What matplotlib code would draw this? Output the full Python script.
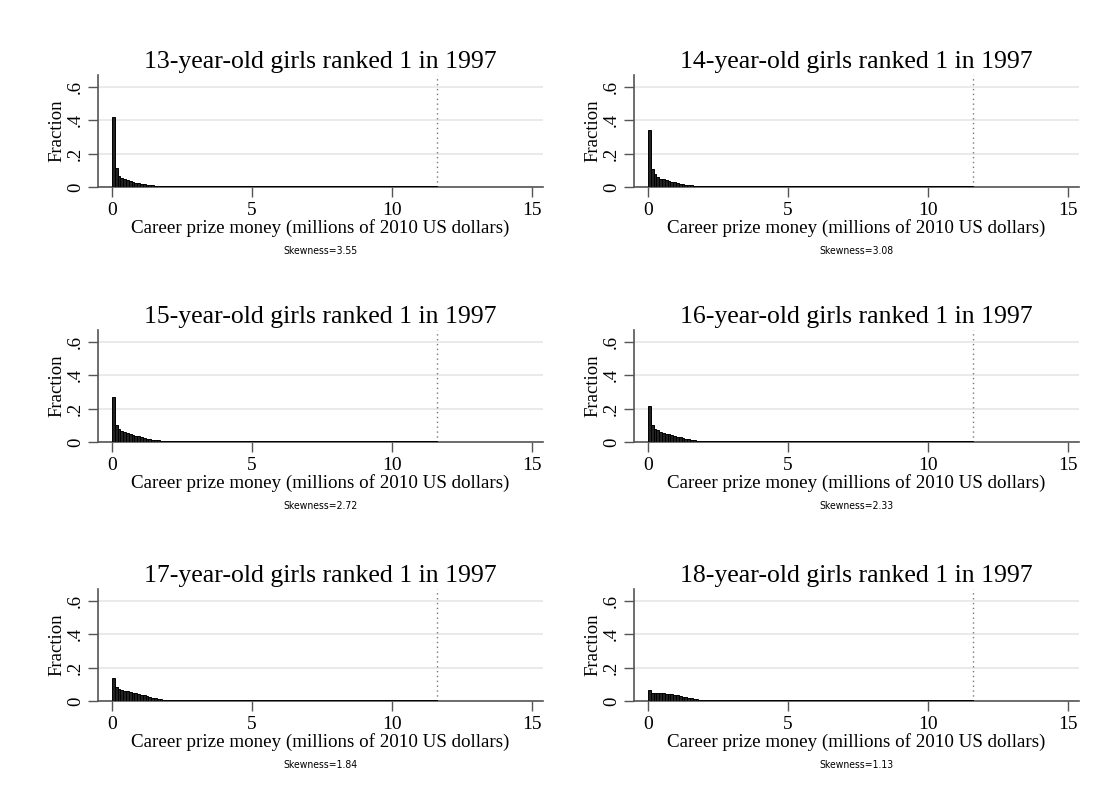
import numpy as np
import matplotlib.pyplot as plt

# histogram bin settings (millions of 2010 US dollars)
bin_w = 0.1
max_prize = 11.6

ages = [13, 14, 15, 16, 17, 18]
skewness = [3.55, 3.08, 2.72, 2.33, 1.84, 1.13]

# first 20 bins (0 - 2.0), fractions
head_13 = [0.42, 0.115, 0.068, 0.052, 0.045, 0.040, 0.035, 0.030, 0.026, 0.022,
           0.019, 0.016, 0.013, 0.011, 0.009, 0.008, 0.007, 0.006, 0.005, 0.005]
head_14 = [0.343, 0.11, 0.075, 0.060, 0.050, 0.045, 0.040, 0.036, 0.032, 0.028,
           0.024, 0.020, 0.017, 0.014, 0.012, 0.010, 0.008, 0.007, 0.006, 0.005]
head_15 = [0.27, 0.10, 0.075, 0.065, 0.058, 0.052, 0.047, 0.042, 0.037, 0.033,
           0.028, 0.024, 0.020, 0.017, 0.014, 0.011, 0.009, 0.007, 0.006, 0.005]
head_16 = [0.215, 0.10, 0.080, 0.070, 0.062, 0.056, 0.050, 0.045, 0.040, 0.035,
           0.031, 0.027, 0.023, 0.019, 0.016, 0.013, 0.010, 0.008, 0.006, 0.005]
head_17 = [0.14, 0.085, 0.070, 0.065, 0.062, 0.058, 0.055, 0.050, 0.046, 0.042,
           0.037, 0.033, 0.028, 0.024, 0.020, 0.016, 0.013, 0.010, 0.008, 0.006]
head_18 = [0.063, 0.045, 0.045, 0.046, 0.047, 0.046, 0.044, 0.042, 0.040, 0.037,
           0.034, 0.030, 0.026, 0.022, 0.018, 0.015, 0.012, 0.010, 0.008, 0.006]

# long flat tail (2.0 - 11.6), same in every panel
tail = [0.006, 0.006, 0.006, 0.006, 0.005, 0.005, 0.005, 0.005, 0.005, 0.005,
        0.005, 0.005, 0.005, 0.005, 0.005, 0.005, 0.005, 0.005, 0.005, 0.005,
        0.005, 0.005, 0.005, 0.005, 0.005, 0.005, 0.005, 0.005, 0.005, 0.005,
        0.005, 0.005, 0.005, 0.005, 0.005, 0.005, 0.005, 0.005, 0.005, 0.005,
        0.005, 0.005, 0.005, 0.005, 0.005, 0.005, 0.005, 0.005, 0.005, 0.005,
        0.005, 0.005, 0.005, 0.005, 0.005, 0.005, 0.005, 0.005, 0.005, 0.005,
        0.005, 0.005, 0.005, 0.005, 0.005, 0.005, 0.005, 0.005, 0.005, 0.005,
        0.005, 0.005, 0.005, 0.005, 0.005, 0.005, 0.005, 0.005, 0.005, 0.005,
        0.005, 0.005, 0.005, 0.005, 0.005, 0.005, 0.005, 0.005, 0.005, 0.005,
        0.005, 0.005, 0.005, 0.005, 0.005, 0.005]

heads = [head_13, head_14, head_15, head_16, head_17, head_18]

plt.rcParams['font.family'] = ['Liberation Serif', 'DejaVu Serif']

fig = plt.figure(figsize=(11.05, 8.11), dpi=100)

lefts = [98, 634]
bottoms = [187, 442, 701]
ax_w, ax_h = 445, 112
W, H = 1105, 811

for i, (age, sk, head) in enumerate(zip(ages, skewness, heads)):
    r, c = divmod(i, 2)
    ax = fig.add_axes([lefts[c] / W, 1 - bottoms[r] / H, ax_w / W, ax_h / H])
    vals = head + tail
    edges = np.arange(len(vals)) * bin_w
    ax.bar(edges, vals, width=bin_w, align='edge', color='#222222',
           edgecolor='black', linewidth=0.7, zorder=3)
    ax.axvline(max_prize, color='#777777', linestyle=(0, (1, 2.5)), lw=1, zorder=2)
    ax.set_xlim(-0.5, 15.4)
    ax.set_ylim(0, 0.67)
    ax.set_yticks([0, 0.2, 0.4, 0.6])
    ax.set_yticklabels(['0', '.2', '.4', '.6'], rotation=90, va='center')
    ax.set_xticks([0, 5, 10, 15])
    ax.grid(axis='y', color='#e6e6e6', lw=1.2, zorder=0)
    for s in ['top', 'right']:
        ax.spines[s].set_visible(False)
    for s in ['left', 'bottom']:
        ax.spines[s].set_color('#555555')
        ax.spines[s].set_linewidth(1.2)
    ax.tick_params(axis='x', length=7, width=1, color='#555555',
                   labelsize=14, pad=4)
    ax.tick_params(axis='y', length=7, width=1, color='#555555',
                   labelsize=13.5, pad=3)
    ax.set_title(f'{age}-year-old girls ranked 1 in 1997', fontsize=18.5, pad=5)
    ax.set_ylabel('Fraction', fontsize=13.5, labelpad=1)
    ax.set_xlabel('Career prize money (millions of 2010 US dollars)',
                  fontsize=13.7, labelpad=0)
    ax.text(0.5, -0.57, f'Skewness={sk:.2f}', transform=ax.transAxes,
            ha='center', va='center', fontsize=7.5, fontstretch='condensed',
            family=['Liberation Sans Narrow', 'DejaVu Sans'])

fig.savefig('out.png', dpi=100, facecolor='white')
